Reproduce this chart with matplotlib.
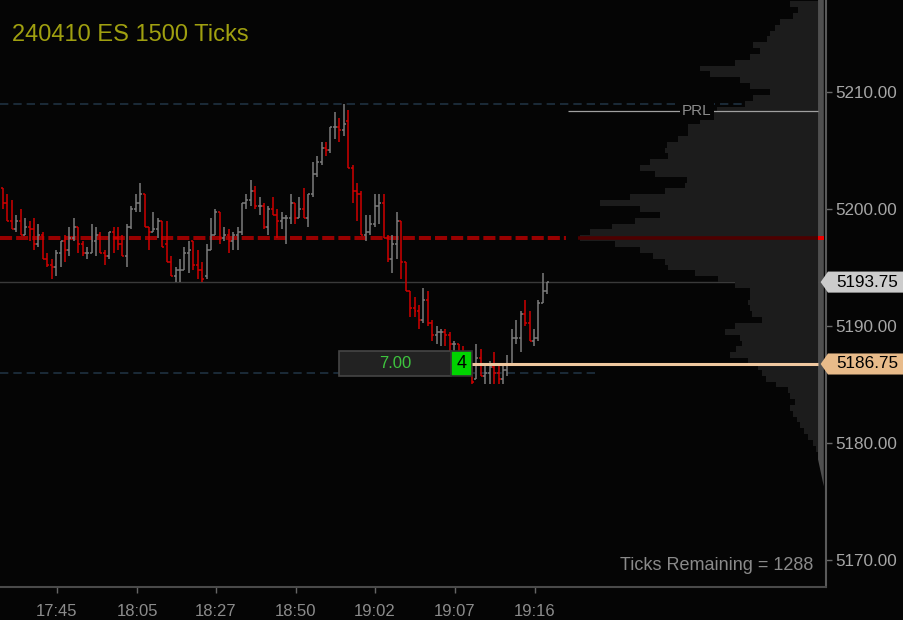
import matplotlib
matplotlib.use("Agg")
import numpy as np
from matplotlib import pyplot as plt
from matplotlib.patches import Rectangle, Polygon
from matplotlib.transforms import blended_transform_factory

plt.rcParams['font.family'] = ['Liberation Sans', 'DejaVu Sans']

BG = '#050505'

# 1500-tick bars, oldest first
opens = [5201.75, 5200.5, 5199.0, 5198.25, 5199.0, 5197.75, 5198.5, 5198.25, 5197.0, 5197.75,
         5195.75, 5195.25, 5195.0, 5196.25, 5197.25, 5196.5, 5197.5, 5198.5, 5197.0, 5196.25,
         5196.25, 5197.25, 5197.75, 5196.25, 5196.0, 5198.0, 5197.5, 5197.0, 5196.0, 5198.5,
         5200.0, 5200.5, 5201.25, 5198.5, 5198.0, 5198.25, 5199.0, 5197.0, 5195.5, 5194.25,
         5194.75, 5194.75, 5196.25, 5197.25, 5195.25, 5194.75, 5194.25, 5196.5, 5197.75, 5199.75,
         5197.5, 5197.75, 5197.25, 5197.75, 5198.0, 5200.5, 5200.75, 5201.5, 5200.25, 5200.25,
         5198.5, 5200.0, 5199.5, 5199.0, 5199.25, 5199.25, 5200.5, 5199.25, 5200.0, 5199.25,
         5201.25, 5203.0, 5204.0, 5205.25, 5205.0, 5207.0, 5207.0, 5206.75, 5207.5, 5203.5,
         5201.5, 5201.25, 5197.75, 5198.0, 5198.75, 5200.25, 5200.5, 5197.5, 5195.75, 5197.0,
         5199.0, 5195.5, 5193.0, 5191.5, 5191.25, 5190.5, 5192.25, 5190.25, 5189.25, 5189.5,
         5189.5, 5189.25, 5188.5, 5188.5, 5187.75, 5187.0, 5186.0, 5185.5, 5187.25, 5185.75,
         5186.0, 5186.5, 5186.0, 5185.5, 5186.25, 5186.75, 5189.0, 5189.0, 5191.0, 5190.25,
         5188.75, 5189.0, 5192.0, 5193.0]
highs = [5201.75, 5201.25, 5200.75, 5199.5, 5200.0, 5199.25, 5199.0, 5199.25, 5198.75, 5198.0,
         5196.25, 5195.75, 5196.5, 5197.25, 5197.75, 5198.5, 5199.25, 5198.5, 5197.25, 5196.75,
         5198.75, 5198.5, 5198.0, 5196.5, 5198.0, 5198.5, 5198.5, 5197.75, 5198.75, 5200.25,
         5201.25, 5202.25, 5201.25, 5198.5, 5199.75, 5199.25, 5199.0, 5199.0, 5196.0, 5195.0,
         5195.75, 5196.75, 5197.25, 5197.25, 5196.5, 5195.5, 5197.0, 5199.25, 5200.0, 5199.75,
         5198.5, 5198.25, 5198.0, 5198.5, 5200.5, 5201.25, 5202.5, 5202.0, 5201.0, 5200.5,
         5200.25, 5201.0, 5200.0, 5199.75, 5199.5, 5201.25, 5200.5, 5201.0, 5201.75, 5201.25,
         5204.0, 5204.5, 5205.75, 5205.75, 5207.0, 5208.25, 5207.75, 5209.0, 5208.5, 5203.75,
         5202.25, 5201.5, 5199.5, 5199.5, 5201.25, 5201.25, 5201.25, 5197.75, 5197.75, 5199.75,
         5199.0, 5195.5, 5193.0, 5192.5, 5191.75, 5193.25, 5193.0, 5190.5, 5190.0, 5189.75,
         5189.75, 5189.5, 5188.75, 5188.5, 5188.25, 5187.5, 5186.5, 5188.5, 5188.0, 5186.75,
         5187.0, 5187.75, 5186.75, 5186.75, 5187.5, 5189.75, 5190.5, 5191.25, 5192.25, 5191.25,
         5189.75, 5192.25, 5194.5, 5193.75]
lows = [5200.0, 5199.0, 5198.25, 5198.0, 5197.75, 5197.75, 5197.25, 5196.5, 5196.75, 5195.75,
        5195.0, 5194.0, 5194.25, 5195.0, 5195.5, 5196.0, 5197.25, 5196.25, 5196.0, 5195.75,
        5196.25, 5196.0, 5196.25, 5195.25, 5195.75, 5196.25, 5196.5, 5196.0, 5195.0, 5198.25,
        5199.75, 5199.75, 5198.5, 5196.5, 5198.0, 5197.5, 5196.75, 5195.5, 5194.25, 5193.75,
        5193.75, 5194.75, 5194.5, 5194.75, 5194.0, 5193.75, 5194.0, 5196.5, 5197.75, 5197.0,
        5197.25, 5196.25, 5196.5, 5196.5, 5197.75, 5200.0, 5200.25, 5200.0, 5199.5, 5198.25,
        5197.75, 5199.5, 5197.5, 5198.25, 5197.0, 5198.75, 5198.75, 5199.25, 5199.25, 5198.5,
        5201.0, 5202.75, 5203.75, 5204.5, 5204.75, 5206.0, 5205.75, 5206.25, 5203.5, 5200.5,
        5199.0, 5197.75, 5197.25, 5197.75, 5198.5, 5198.75, 5197.5, 5195.5, 5194.5, 5195.75,
        5194.0, 5193.0, 5190.75, 5190.75, 5189.75, 5190.25, 5190.0, 5188.75, 5188.5, 5188.25,
        5188.25, 5187.75, 5187.75, 5187.5, 5186.75, 5185.75, 5185.0, 5185.5, 5185.75, 5185.0,
        5185.0, 5185.0, 5185.0, 5185.0, 5185.75, 5186.75, 5188.5, 5187.75, 5190.0, 5188.75,
        5188.25, 5188.75, 5192.0, 5192.75]
closes = [5200.5, 5199.0, 5198.25, 5199.0, 5197.75, 5198.5, 5198.25, 5197.0, 5197.75, 5195.75,
          5195.25, 5195.0, 5196.25, 5197.25, 5196.5, 5197.5, 5198.5, 5197.0, 5196.25, 5196.25,
          5197.25, 5197.75, 5196.25, 5196.0, 5198.0, 5197.5, 5197.0, 5196.0, 5198.5, 5200.0,
          5200.5, 5201.25, 5198.5, 5198.0, 5198.25, 5199.0, 5196.75, 5195.5, 5194.25, 5194.75,
          5194.75, 5196.25, 5196.5, 5195.25, 5194.75, 5194.0, 5196.5, 5197.75, 5199.75, 5197.5,
          5197.75, 5197.25, 5197.75, 5198.0, 5200.5, 5200.75, 5201.5, 5200.25, 5200.25, 5198.5,
          5200.0, 5199.5, 5199.0, 5199.25, 5199.25, 5200.5, 5199.25, 5200.0, 5199.25, 5201.25,
          5203.0, 5204.0, 5205.25, 5205.0, 5207.0, 5207.0, 5206.75, 5207.25, 5203.5, 5201.5,
          5201.25, 5197.75, 5198.0, 5198.75, 5200.25, 5200.5, 5197.5, 5195.75, 5197.0, 5199.0,
          5195.5, 5193.0, 5191.5, 5191.25, 5190.5, 5192.25, 5190.25, 5189.25, 5189.5, 5189.5,
          5189.25, 5188.5, 5188.5, 5187.75, 5187.0, 5186.0, 5185.25, 5187.25, 5185.75, 5186.0,
          5186.5, 5186.0, 5185.5, 5186.25, 5186.75, 5189.0, 5189.0, 5191.0, 5190.25, 5188.75,
          5189.0, 5192.0, 5193.0, 5193.75]

# volume profile (row price, relative volume)
profile_prices = np.arange(5217.5, 5179.0, -0.5)
profile_volume = [28, 20, 25, 38, 43, 48, 51, 65, 58, 68, 83, 118, 108, 78, 68, 48, 65, 73,
                  101, 106, 118, 130, 130, 140, 151, 153, 150, 168, 178, 163, 131, 133, 153,
                  188, 218, 178, 158, 183, 206, 228, 238, 203, 178, 165, 153, 150, 123, 100,
                  83, 68, 68, 70, 68, 66, 56, 83, 93, 78, 76, 82, 88, 70, 60, 56, 52, 42, 30,
                  28, 23, 28, 25, 21, 18, 14, 10, 5, 2]

time_ticks = [12.1, 30.35, 48.1, 66.2, 84.0, 102.1, 120.2]
time_labels = ['17:45', '18:05', '18:27', '18:50', '19:02', '19:07', '19:16']
price_ticks = [5170, 5180, 5190, 5200, 5210]

poc = 5197.5
day_high = 5209.0
day_low_ref = 5186.0
prl = 5208.4
last_price = 5193.75
entry_price = 5186.75
open_pnl = 7.00
position_qty = 4

XLIM = (-0.68, 186.0)
YLIM = (5167.69, 5217.86)
rect = [0, 33 / 620, 826 / 904, 587 / 620]

fig = plt.figure(figsize=(9.04, 6.2), dpi=100, facecolor=BG)
ax = fig.add_axes(rect, facecolor=BG)
ax.set_xlim(*XLIM)
ax.set_ylim(*YLIM)

x = np.arange(len(opens))
o = np.array(opens)
c = np.array(closes)
cols = np.where(c >= o, '#7c7c7c', '#d00000')
ax.vlines(x, lows, highs, colors=cols, lw=1.1, zorder=3)
ax.hlines(o, x - 0.45, x, colors=cols, lw=1.1, zorder=3)
ax.hlines(c, x, x + 0.45, colors=cols, lw=1.1, zorder=3)

ax.axhline(day_high, color='#1f3140', lw=1.2, dashes=(5, 3), zorder=1)
ax.hlines(day_low_ref, XLIM[0], 134.9, color='#1f3140', lw=1.2,
          linestyles=(0, (5, 3)), zorder=1)
ax.axhline(last_price, color='#3a3a3a', lw=1.0, zorder=1)
ax.hlines(poc, XLIM[0], 127.2, color='#990000', lw=2.9, linestyles=(0, (3, 1)), zorder=2)

for s in ['top', 'left']:
    ax.spines[s].set_visible(False)
ax.spines['right'].set_color('#5a5a5a')
ax.spines['right'].set_linewidth(1.5)
ax.spines['bottom'].set_color('#4a4a4a')
ax.spines['bottom'].set_linewidth(1.5)

ax.yaxis.tick_right()
ax.set_yticks(price_ticks)
ax.set_yticklabels([f'{p:.2f}' for p in price_ticks])
ax.tick_params(axis='y', colors='#6a6a6a', labelcolor='#a6a6a6', labelsize=12.3,
               length=4, width=1, pad=3)
ax.set_xticks(time_ticks)
ax.set_xticklabels(time_labels)
ax.tick_params(axis='x', colors='#666666', labelcolor='#8c8c8c', labelsize=12,
               length=4, width=1, pad=8)

# volume profile
axp = fig.add_axes([558 / 904, 33 / 620, 260 / 904, 587 / 620])
axp.patch.set_visible(False)
axp.set_xlim(260, 0)
axp.set_ylim(*YLIM)
axp.axis('off')
axp.barh(profile_prices, profile_volume, height=0.5, color='#1c1c1c', linewidth=0)

# overlay
ov = fig.add_axes(rect, sharex=ax, sharey=ax)
ov.patch.set_visible(False)
ov.axis('off')
ov.add_patch(Polygon([(184.2, YLIM[1]), (185.5, YLIM[1]), (185.5, 5176.3), (184.2, 5178.6)],
                     closed=True, facecolor='#4f4f4f', edgecolor='none'))
ov.hlines(poc, 129.9, 184.2, color='#4d0000', lw=2.6)
ov.add_patch(Rectangle((184.2, poc - 0.17), 1.3, 0.34, facecolor='#ee0000', edgecolor='none'))
ov.hlines(prl, 127.7, 184.2, color='#a0a0a0', lw=0.9)
ov.text(156.8, prl, 'PRL', color='#8c8c8c', fontsize=11, ha='center', va='center',
        bbox=dict(facecolor=BG, edgecolor='none', pad=1.5))
ov.hlines(entry_price, 106.0, 184.2, color='#f0c8a0', lw=2.2)

ov.add_patch(Rectangle((75.9, 5185.70), 25.3, 2.14, facecolor='#222222',
                       edgecolor='#454545', lw=1.2))
ov.text(88.6, 5186.77, f'{open_pnl:.2f}', color='#3ec43e', fontsize=12,
        ha='center', va='center')
ov.add_patch(Rectangle((101.2, 5185.70), 4.8, 2.14, facecolor='#00d400',
                       edgecolor='#333333', lw=1.2))
ov.text(103.6, 5186.77, str(position_qty), color='#000000', fontsize=13,
        ha='center', va='center')

# price badges on the right axis
bt = blended_transform_factory(ov.transAxes, ov.transData)
for price, fc in [(last_price, '#cccccc'), (entry_price, '#e8bb8a')]:
    h = 0.9
    ov.add_patch(Polygon([(0.9935, price), (1.0024, price + h), (1.0944, price + h),
                          (1.0944, price - h), (1.0024, price - h)], closed=True,
                         facecolor=fc, edgecolor='none', transform=bt, clip_on=False))
    ov.text(1.0121, price, f'{price:.2f}', color='#000000', fontsize=12.3,
            ha='left', va='center', transform=bt, clip_on=False)

fig.text(12 / 904, 1 - 35 / 620, '240410 ES 1500 Ticks', color='#a0a010',
         fontsize=17, ha='left', va='center')
fig.text(813 / 904, 1 - 565 / 620, 'Ticks Remaining = 1288', color='#8a8a8a',
         fontsize=13, ha='right', va='center')

fig.savefig('out.png', dpi=100, facecolor=BG)
